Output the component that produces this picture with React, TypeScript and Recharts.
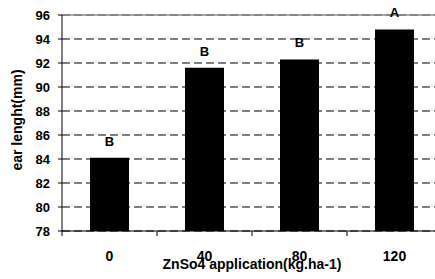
import React from 'react';
import { BarChart, Bar, XAxis, YAxis, CartesianGrid, ReferenceLine, LabelList, Label } from 'recharts';

const doses = ['0', '40', '80', '120'];
const earLength = [84.1, 91.6, 92.3, 94.8];
const groups = ['B', 'B', 'B', 'A'];
const yTicks = [78, 80, 82, 84, 86, 88, 90, 92, 94, 96];

const data = doses.map((d, i) => ({ dose: d, value: earLength[i], group: groups[i] }));

const FONT = 'Liberation Sans, Arial, sans-serif';
const BAND = 95;

const XTick: React.FC<any> = ({ x, y, payload }) => {
  const left = x - BAND / 2;
  return (
    <g>
      <line x1={left} y1={y - 30} x2={left} y2={y - 25} stroke="#000" />
      <text x={x} y={y} textAnchor="middle" fontFamily={FONT} fontWeight="bold" fontSize={14} fill="#000">
        {payload.value}
      </text>
    </g>
  );
};

const YTitle: React.FC<any> = ({ viewBox }) => {
  const cx = viewBox.x + 17;
  const cy = viewBox.y + viewBox.height / 2 - 3;
  return (
    <text
      x={cx}
      y={cy}
      transform={`rotate(-90, ${cx}, ${cy})`}
      textAnchor="middle"
      dominantBaseline="central"
      fontFamily={FONT}
      fontWeight="bold"
      fontSize={14}
      fill="#000"
    >
      ear lenght(mm)
    </text>
  );
};

export default function App() {
  return (
    <div style={{ position: 'absolute', left: 0, top: 0, width: 435, height: 279, overflow: 'hidden', background: '#fff' }}>
      <BarChart width={442} height={279} data={data} margin={{ top: 15, right: 0, left: 0, bottom: 0 }} barSize={39}>
        <CartesianGrid vertical={false} stroke="#000" strokeDasharray="8 4" />
        <ReferenceLine y={96} stroke="#888" strokeWidth={1.5} />
        <XAxis
          dataKey="dose"
          height={48}
          stroke="#000"
          tickLine={false}
          tickSize={5}
          tickMargin={25}
          tick={<XTick />}
          interval={0}
        >
          <Label
            value="ZnSo4 application(kg.ha-1)"
            position="insideBottom"
            offset={10}
            style={{ fontFamily: FONT, fontWeight: 'bold', fontSize: 14, fill: '#000' }}
          />
        </XAxis>
        <YAxis
          width={62}
          domain={[78, 96]}
          ticks={yTicks}
          interval={0}
          stroke="#000"
          tickSize={4}
          tickMargin={8}
          tick={{ fontFamily: FONT, fontWeight: 'bold', fontSize: 13, fill: '#000' }}
        >
          <Label content={<YTitle />} />
        </YAxis>
        <Bar dataKey="value" fill="#000" isAnimationActive={false}>
          <LabelList
            dataKey="group"
            position="top"
            offset={12}
            style={{ fontFamily: FONT, fontWeight: 'bold', fontSize: 13, fill: '#000' }}
          />
        </Bar>
      </BarChart>
    </div>
  );
}
